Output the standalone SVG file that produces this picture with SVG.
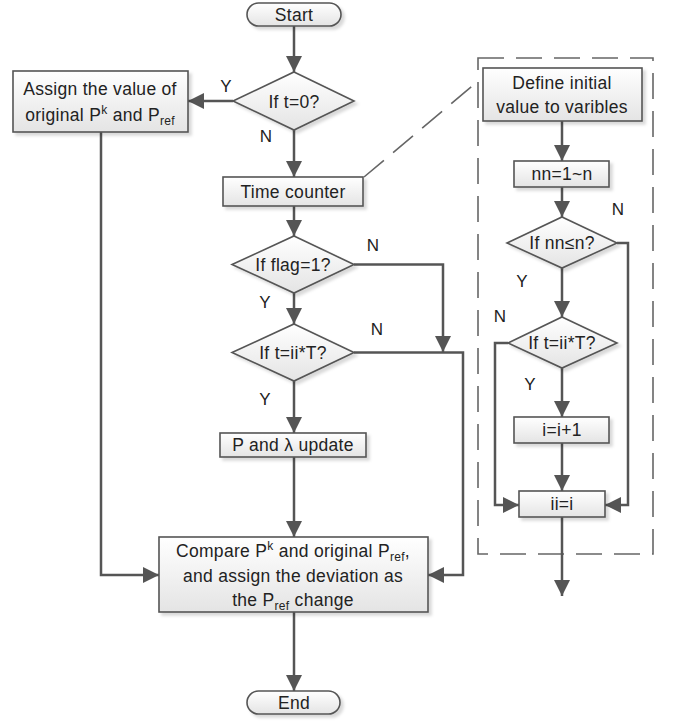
<svg xmlns="http://www.w3.org/2000/svg" width="673" height="724" viewBox="0 0 673 724">
<defs>
<linearGradient id="g" x1="0" y1="0" x2="0" y2="1">
<stop offset="0" stop-color="#ffffff"/>
<stop offset="1" stop-color="#e4e4e4"/>
</linearGradient>
<filter id="sh" x="-10%" y="-10%" width="130%" height="140%">
<feDropShadow dx="3" dy="3" stdDeviation="1.5" flood-color="#000" flood-opacity="0.15"/>
</filter>
<marker id="ar" markerUnits="userSpaceOnUse" markerWidth="16" markerHeight="16" viewBox="0 0 16 16" refX="16" refY="8" orient="auto">
<path d="M0,0 L16,8 L0,16 Z" fill="#555"/>
</marker>
<style>
.n{fill:url(#g);stroke:#555;stroke-width:1.6;filter:url(#sh)}
.t{font-family:"Liberation Sans",Arial,sans-serif;font-size:17.5px;letter-spacing:0.3px;fill:#222;text-anchor:middle}
.l{font-family:"Liberation Sans",Arial,sans-serif;font-size:17px;fill:#222;text-anchor:middle}
.c{fill:none;stroke:#555;stroke-width:2.5}
.d{fill:none;stroke:#666;stroke-width:1.6;stroke-dasharray:26 12}
</style>
</defs>
<rect width="673" height="724" fill="#fff"/>

<g id="dashed-group">
<rect x="478" y="58" width="175" height="496" class="d"/>
<line x1="364" y1="177" x2="477" y2="82" class="d"/>
</g>

<g id="connectors">
<line x1="294" y1="26" x2="294" y2="72" class="c" marker-end="url(#ar)"/>
<line x1="233" y1="101" x2="188" y2="101" class="c" marker-end="url(#ar)"/>
<line x1="294" y1="130" x2="294" y2="177" class="c" marker-end="url(#ar)"/>
<line x1="294" y1="206" x2="294" y2="236" class="c" marker-end="url(#ar)"/>
<line x1="294" y1="293" x2="294" y2="324" class="c" marker-end="url(#ar)"/>
<line x1="294" y1="381" x2="294" y2="433" class="c" marker-end="url(#ar)"/>
<line x1="294" y1="457" x2="294" y2="537" class="c" marker-end="url(#ar)"/>
<line x1="294" y1="612" x2="294" y2="691" class="c" marker-end="url(#ar)"/>
<polyline points="354,264.5 443,264.5 443,352" class="c" marker-end="url(#ar)"/>
<polyline points="354,352.5 463,352.5 463,575 428,575" class="c" marker-end="url(#ar)"/>
<polyline points="101,132 101,575 159,575" class="c" marker-end="url(#ar)"/>
<line x1="562" y1="121" x2="562" y2="161" class="c" marker-end="url(#ar)"/>
<line x1="562" y1="187" x2="562" y2="217" class="c" marker-end="url(#ar)"/>
<line x1="562" y1="268" x2="562" y2="317" class="c" marker-end="url(#ar)"/>
<line x1="562" y1="368" x2="562" y2="417" class="c" marker-end="url(#ar)"/>
<line x1="562" y1="443" x2="562" y2="491" class="c" marker-end="url(#ar)"/>
<polyline points="617,243 628,243 628,505 605,505" class="c" marker-end="url(#ar)"/>
<polyline points="508,343 495,343 495,505 519,505" class="c" marker-end="url(#ar)"/>
<line x1="562" y1="517" x2="562" y2="596" class="c" marker-end="url(#ar)"/>
<text class="l" x="226" y="92">Y</text>
<text class="l" x="266" y="142">N</text>
<text class="l" x="373" y="251">N</text>
<text class="l" x="265" y="308">Y</text>
<text class="l" x="377" y="335">N</text>
<text class="l" x="265" y="405">Y</text>
<text class="l" x="618" y="215">N</text>
<text class="l" x="522" y="287">Y</text>
<text class="l" x="500" y="322">N</text>
<text class="l" x="530" y="390">Y</text>
</g>

<g id="start">
<rect x="247" y="3" width="94" height="23" rx="11.5" class="n"/>
<text class="t" x="294" y="21">Start</text>
</g>

<g id="if-t0">
<polygon points="294,72 354,101 294,130 233,101" class="n"/>
<text class="t" x="294" y="108">If t=0?</text>
</g>

<g id="assign">
<rect x="13" y="71" width="175" height="61" class="n"/>
<text class="t" x="100" y="95">Assign the value of</text>
<text class="t" x="100" y="121">original P<tspan font-size="12" dy="-7">k</tspan><tspan dy="7"> and P</tspan><tspan font-size="12" dy="4">ref</tspan></text>
</g>

<g id="time-counter">
<rect x="223" y="177" width="140" height="29" class="n"/>
<text class="t" x="293" y="198">Time counter</text>
</g>

<g id="if-flag">
<polygon points="294,236 354,264.5 294,293 232,264.5" class="n"/>
<text class="t" x="293" y="271">If flag=1?</text>
</g>

<g id="if-tiiT">
<polygon points="294,324 354,352.5 294,381 232,352.5" class="n"/>
<text class="t" x="293" y="359">If t=ii*T?</text>
</g>

<g id="update">
<rect x="220" y="433" width="146" height="24" class="n"/>
<text class="t" x="293" y="451">P and λ update</text>
</g>

<g id="compare">
<rect x="159" y="537" width="269" height="75" class="n"/>
<text class="t" x="293" y="557">Compare P<tspan font-size="12" dy="-7">k</tspan><tspan dy="7"> and original P</tspan><tspan font-size="12" dy="4">ref</tspan><tspan dy="-4">,</tspan></text>
<text class="t" x="293" y="582">and assign the deviation as</text>
<text class="t" x="293" y="606">the P<tspan font-size="12" dy="4">ref</tspan><tspan dy="-4"> change</tspan></text>
</g>

<g id="end">
<rect x="247" y="691" width="93" height="23" rx="11.5" class="n"/>
<text class="t" x="294" y="709">End</text>
</g>

<g id="define">
<rect x="483" y="68" width="159" height="53" class="n"/>
<text class="t" x="562" y="89">Define initial</text>
<text class="t" x="562" y="113">value to varibles</text>
</g>

<g id="nn-range">
<rect x="514" y="161" width="95" height="26" class="n"/>
<text class="t" x="562" y="180">nn=1~n</text>
</g>

<g id="if-nn">
<polygon points="562,217 617,243 562,268 507,243" class="n"/>
<text class="t" x="562" y="249">If nn≤n?</text>
</g>

<g id="if-tiiT-inner">
<polygon points="562,317 617,343 562,368 508,343" class="n"/>
<text class="t" x="562" y="349">If t=ii*T?</text>
</g>

<g id="i-inc">
<rect x="514" y="417" width="95" height="26" class="n"/>
<text class="t" x="562" y="436">i=i+1</text>
</g>

<g id="ii-assign">
<rect x="519" y="491" width="86" height="26" class="n"/>
<text class="t" x="562" y="510">ii=i</text>
</g>
</svg>
